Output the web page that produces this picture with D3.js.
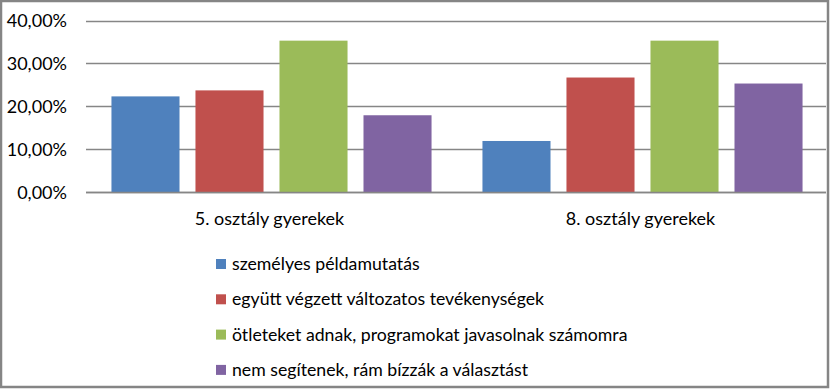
<!DOCTYPE html>
<html>
<head>
<meta charset="utf-8">
<script src="https://cdn.jsdelivr.net/npm/d3@7"></script>
<style>
  body { margin: 0; background: #fff; }
  svg { display: block; font-family: Lato, "Open Sans", sans-serif; }
</style>
</head>
<body>
<svg id="chart" width="830" height="389"></svg>
<script>
const categories = ['5. osztály gyerekek', '8. osztály gyerekek'];
const seriesNames = [
  'személyes példamutatás',
  'együtt végzett változatos tevékenységek',
  'ötleteket adnak, programokat javasolnak számomra',
  'nem segítenek, rám bízzák a választást',
];
const seriesColors = ['#4f81bd', '#c0504d', '#9bbb59', '#8064a2'];
// values per series, one per category
const seriesValues = [
  [0.223, 0.119],
  [0.237, 0.267],
  [0.353, 0.353],
  [0.179, 0.253],
];
const yTicks = [0, 0.1, 0.2, 0.3, 0.4];

const svg = d3.select('#chart');
const W = 830, H = 389;
const plot = { left: 86, right: 826, top: 20.5, bottom: 192 };

svg.append('rect')
  .attr('x', 1).attr('y', 1)
  .attr('width', W - 3).attr('height', H - 3)
  .attr('fill', '#fff')
  .attr('stroke', '#858585')
  .attr('stroke-width', 2.5);

const y = d3.scaleLinear().domain([0, 0.4]).range([plot.bottom, plot.top]);
const x0 = d3.scaleBand().domain(categories).range([plot.left, plot.left + 742]);
const x1 = d3.scaleBand().domain(d3.range(seriesNames.length))
  .range([0, x0.bandwidth()])
  .paddingInner(0.19)
  .paddingOuter(0.303);

const fmt = (v) => d3.format('.2f')(v * 100).replace('.', ',') + '%';

// gridlines
svg.append('g')
  .selectAll('line')
  .data(yTicks)
  .join('line')
  .attr('x1', plot.left).attr('x2', plot.right)
  .attr('y1', (d) => Math.round(y(d)) + 0.5)
  .attr('y2', (d) => Math.round(y(d)) + 0.5)
  .attr('stroke', '#868686')
  .attr('stroke-width', 1.3);

// y labels
svg.append('g')
  .selectAll('text')
  .data(yTicks)
  .join('text')
  .attr('x', 67)
  .attr('y', (d) => y(d) + 6.5)
  .attr('text-anchor', 'end')
  .attr('font-size', 18)
  .attr('fill', '#000')
  .text(fmt);

// bars
const groups = svg.append('g')
  .selectAll('g')
  .data(categories)
  .join('g')
  .attr('transform', (d) => `translate(${x0(d)},0)`);

groups.selectAll('rect')
  .data((d, ci) => seriesValues.map((vals, si) => ({ si, v: vals[ci] })))
  .join('rect')
  .attr('x', (d) => x1(d.si))
  .attr('width', x1.bandwidth())
  .attr('y', (d) => y(d.v))
  .attr('height', (d) => y(0) - y(d.v))
  .attr('fill', (d) => seriesColors[d.si]);

// baseline on top of bars
svg.append('line')
  .attr('x1', plot.left).attr('x2', plot.right)
  .attr('y1', Math.round(y(0)) + 0.5).attr('y2', Math.round(y(0)) + 0.5)
  .attr('stroke', '#868686')
  .attr('stroke-width', 1.3);

// category labels
svg.append('g')
  .selectAll('text')
  .data(categories)
  .join('text')
  .attr('x', (d) => x0(d) + x0.bandwidth() / 2 - 2)
  .attr('y', 224.5)
  .attr('text-anchor', 'middle')
  .attr('font-size', 18)
  .text((d) => d);

// legend
const legend = svg.append('g')
  .selectAll('g')
  .data(seriesNames)
  .join('g')
  .attr('transform', (d, i) => `translate(216,${264 + i * 35.3})`);

legend.append('rect')
  .attr('x', 0).attr('y', -5)
  .attr('width', 10).attr('height', 10)
  .attr('fill', (d, i) => seriesColors[i]);

legend.append('text')
  .attr('x', 16)
  .attr('y', 6)
  .attr('font-size', 17.7)
  .text((d) => d);
</script>
</body>
</html>
